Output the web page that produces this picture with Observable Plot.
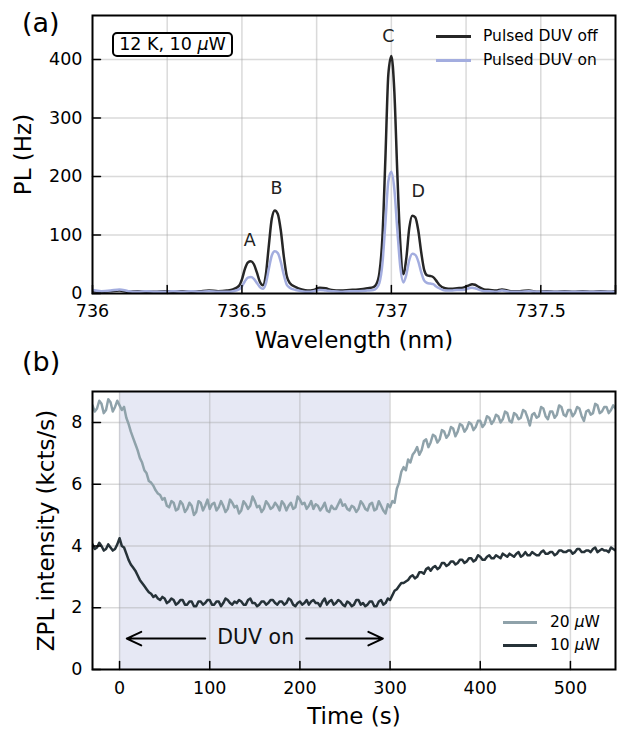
<!DOCTYPE html>
<html>
<head>
<meta charset="utf-8">
<script src="https://cdn.jsdelivr.net/npm/d3@7"></script>
<script src="https://cdn.jsdelivr.net/npm/@observablehq/plot@0.6"></script>
<style>
  html, body { margin: 0; padding: 0; background: #fff; }
  #root { position: relative; width: 618px; height: 729px; font-family: "DejaVu Sans", sans-serif; color: #000; overflow: hidden; }
  #root svg { position: absolute; left: 0; }
  .abs { position: absolute; white-space: nowrap; }
  .leg-line { position: absolute; height: 3px; }
  .leg-text { position: absolute; font-size: 15.5px; line-height: 20px; white-space: nowrap; }
</style>
</head>
<body>
<div id="root"></div>
<script>
// ---------- Panel (a) data ----------
const wavelength = [736.00, 736.03, 736.06, 736.09, 736.12, 736.15, 736.18, 736.21, 736.24, 736.27, 736.30, 736.33, 736.36, 736.39, 736.42, 736.45, 736.47, 736.49, 736.50, 736.51, 736.52, 736.53, 736.54, 736.55, 736.56, 736.57, 736.58, 736.59, 736.60, 736.61, 736.62, 736.63, 736.64, 736.65, 736.66, 736.68, 736.70, 736.72, 736.74, 736.76, 736.78, 736.80, 736.83, 736.86, 736.89, 736.92, 736.94, 736.95, 736.96, 736.97, 736.98, 736.99, 737.00, 737.01, 737.02, 737.03, 737.04, 737.05, 737.06, 737.07, 737.08, 737.09, 737.10, 737.11, 737.12, 737.13, 737.14, 737.15, 737.16, 737.18, 737.20, 737.22, 737.24, 737.26, 737.27, 737.28, 737.29, 737.31, 737.33, 737.35, 737.37, 737.40, 737.43, 737.46, 737.49, 737.52, 737.55, 737.58, 737.61, 737.64, 737.67, 737.70, 737.73, 737.75];
const plDuvOff = [4, 3, 4, 5, 3, 4, 3, 3, 4, 3, 4, 3, 4, 5, 4, 5, 7, 13, 24, 42, 53, 55, 50, 36, 20, 14, 32, 82, 128, 142, 136, 108, 64, 30, 18, 11, 7, 5, 6, 10, 9, 6, 5, 6, 7, 9, 11, 16, 35, 95, 230, 375, 406, 345, 205, 85, 33, 60, 112, 133, 130, 108, 70, 40, 31, 30, 28, 22, 15, 9, 8, 9, 10, 14, 16, 15, 12, 7, 6, 5, 7, 4, 4, 5, 3, 4, 3, 4, 3, 4, 3, 4, 3, 4];
const plDuvOn = [6, 4, 5, 7, 4, 3, 4, 3, 3, 4, 3, 4, 3, 4, 3, 3, 4, 7, 12, 21, 27, 28, 25, 18, 11, 8, 17, 42, 65, 72, 69, 54, 32, 15, 10, 6, 4, 3, 4, 6, 5, 4, 3, 4, 4, 5, 6, 9, 18, 50, 120, 192, 208, 178, 108, 45, 19, 32, 57, 68, 66, 55, 36, 22, 18, 17, 16, 12, 9, 5, 5, 6, 6, 9, 10, 9, 7, 4, 4, 3, 5, 3, 3, 4, 3, 3, 3, 3, 3, 3, 3, 3, 3, 3];
const peakNames = ["A", "B", "C", "D"];
const peakLabelX = [736.526, 736.616, 736.99, 737.09];
const peakLabelY = [90, 179, 439, 174];
const topXTicks = [736, 736.25, 736.5, 736.75, 737, 737.25, 737.5, 737.75];
const topXTickLabels = [736, 736.5, 737, 737.5];
const topYTicks = [0, 100, 200, 300, 400];
const topSeriesNames = ["Pulsed DUV off", "Pulsed DUV on"];

// ---------- Panel (b) data ----------
const timeS = [
  -30, -27.5, -25, -22.5, -20, -17.5, -15, -12.5,
  -10, -7.5, -5, -2.5, 0, 2.5, 5, 7.5,
  10, 12.5, 15, 17.5, 20, 22.5, 25, 27.5,
  30, 32.5, 35, 37.5, 40, 42.5, 45, 47.5,
  50, 52.5, 55, 57.5, 60, 62.5, 65, 67.5,
  70, 72.5, 75, 77.5, 80, 82.5, 85, 87.5,
  90, 92.5, 95, 97.5, 100, 102.5, 105, 107.5,
  110, 112.5, 115, 117.5, 120, 122.5, 125, 127.5,
  130, 132.5, 135, 137.5, 140, 142.5, 145, 147.5,
  150, 152.5, 155, 157.5, 160, 162.5, 165, 167.5,
  170, 172.5, 175, 177.5, 180, 182.5, 185, 187.5,
  190, 192.5, 195, 197.5, 200, 202.5, 205, 207.5,
  210, 212.5, 215, 217.5, 220, 222.5, 225, 227.5,
  230, 232.5, 235, 237.5, 240, 242.5, 245, 247.5,
  250, 252.5, 255, 257.5, 260, 262.5, 265, 267.5,
  270, 272.5, 275, 277.5, 280, 282.5, 285, 287.5,
  290, 292.5, 295, 297.5, 300, 302.5, 305, 307.5,
  310, 312.5, 315, 317.5, 320, 322.5, 325, 327.5,
  330, 332.5, 335, 337.5, 340, 342.5, 345, 347.5,
  350, 352.5, 355, 357.5, 360, 362.5, 365, 367.5,
  370, 372.5, 375, 377.5, 380, 382.5, 385, 387.5,
  390, 392.5, 395, 397.5, 400, 402.5, 405, 407.5,
  410, 412.5, 415, 417.5, 420, 422.5, 425, 427.5,
  430, 432.5, 435, 437.5, 440, 442.5, 445, 447.5,
  450, 452.5, 455, 457.5, 460, 462.5, 465, 467.5,
  470, 472.5, 475, 477.5, 480, 482.5, 485, 487.5,
  490, 492.5, 495, 497.5, 500, 502.5, 505, 507.5,
  510, 512.5, 515, 517.5, 520, 522.5, 525, 527.5,
  530, 532.5, 535, 537.5, 540, 542.5, 545, 547.5,
  550];
const zpl20uW = [
  8.55, 8.35, 8.45, 8.70, 8.60, 8.30, 8.40, 8.75,
  8.65, 8.35, 8.50, 8.70, 8.55, 8.40, 8.50, 8.15,
  7.95, 7.70, 7.50, 7.30, 7.10, 6.85, 6.70, 6.45,
  6.35, 6.10, 6.05, 5.95, 5.80, 5.70, 5.65, 5.50,
  5.55, 5.30, 5.25, 5.45, 5.40, 5.15, 5.20, 5.45,
  5.35, 5.10, 5.20, 5.40, 5.30, 5.00, 5.10, 5.45,
  5.40, 5.15, 5.30, 5.50, 5.20, 5.35, 5.40, 5.15,
  5.25, 5.45, 5.30, 5.10, 5.20, 5.50, 5.40, 5.25,
  5.30, 5.05, 5.15, 5.45, 5.35, 5.20, 5.30, 5.60,
  5.45, 5.25, 5.30, 5.10, 5.20, 5.45, 5.35, 5.20,
  5.25, 5.40, 5.30, 5.15, 5.45, 5.35, 5.15, 5.30,
  5.40, 5.20, 5.25, 5.60, 5.50, 5.35, 5.40, 5.20,
  5.30, 5.45, 5.20, 5.35, 5.30, 5.15, 5.25, 5.40,
  5.15, 5.10, 5.30, 5.20, 5.20, 5.35, 5.50, 5.30,
  5.35, 5.20, 5.15, 5.30, 5.25, 5.10, 5.20, 5.45,
  5.35, 5.20, 5.15, 5.35, 5.40, 5.15, 5.20, 5.45,
  5.30, 5.15, 5.05, 5.35, 5.25, 5.45, 5.40, 5.85,
  6.05, 6.40, 6.55, 6.45, 6.80, 6.70, 6.95, 7.05,
  7.20, 6.95, 7.10, 7.40, 7.45, 7.20, 7.35, 7.60,
  7.55, 7.35, 7.45, 7.75, 7.70, 7.50, 7.60, 7.85,
  7.80, 7.55, 7.70, 7.95, 7.90, 7.70, 7.80, 8.00,
  7.95, 7.75, 7.85, 8.05, 8.05, 7.85, 7.95, 8.20,
  8.15, 7.95, 8.05, 8.25, 8.20, 8.00, 8.10, 8.35,
  8.30, 8.05, 8.00, 8.30, 8.25, 8.10, 8.15, 8.40,
  8.35, 8.15, 7.90, 8.25, 8.30, 8.15, 8.20, 8.50,
  8.45, 8.20, 8.10, 8.35, 8.35, 8.15, 8.25, 8.55,
  8.50, 8.25, 8.20, 8.40, 8.40, 8.20, 8.30, 8.50,
  8.45, 8.20, 8.05, 8.35, 8.40, 8.25, 8.30, 8.60,
  8.55, 8.30, 8.35, 8.50, 8.50, 8.30, 8.40, 8.55,
  8.45];
const zpl10uW = [
  4.05, 3.90, 3.95, 4.10, 4.00, 3.85, 3.90, 4.05,
  3.95, 3.85, 3.90, 4.05, 4.25, 4.00, 3.95, 3.75,
  3.55, 3.40, 3.30, 3.20, 3.05, 2.90, 2.80, 2.70,
  2.60, 2.50, 2.45, 2.35, 2.40, 2.30, 2.25, 2.35,
  2.30, 2.15, 2.20, 2.30, 2.25, 2.10, 2.15, 2.25,
  2.25, 2.10, 2.10, 2.20, 2.20, 2.05, 2.05, 2.20,
  2.20, 2.10, 2.15, 2.25, 2.25, 2.10, 2.10, 2.20,
  2.20, 2.05, 2.15, 2.30, 2.25, 2.15, 2.10, 2.20,
  2.15, 2.25, 2.20, 2.10, 2.10, 2.25, 2.30, 2.15,
  2.15, 2.05, 2.10, 2.20, 2.20, 2.10, 2.15, 2.25,
  2.25, 2.15, 2.10, 2.20, 2.20, 2.10, 2.15, 2.30,
  2.25, 2.10, 2.05, 2.15, 2.20, 2.10, 2.15, 2.25,
  2.10, 2.20, 2.25, 2.15, 2.15, 2.05, 2.20, 2.30,
  2.10, 2.20, 2.25, 2.10, 2.15, 2.25, 2.20, 2.10,
  2.05, 2.20, 2.15, 2.05, 2.10, 2.25, 2.25, 2.10,
  2.15, 2.05, 2.10, 2.20, 2.20, 2.05, 2.05, 2.20,
  2.25, 2.10, 2.15, 2.30, 2.25, 2.40, 2.55, 2.60,
  2.70, 2.80, 2.80, 2.85, 2.90, 3.00, 3.05, 2.95,
  3.00, 3.15, 3.15, 3.10, 3.25, 3.30, 3.20, 3.30,
  3.35, 3.25, 3.30, 3.45, 3.45, 3.35, 3.40, 3.50,
  3.50, 3.40, 3.45, 3.55, 3.55, 3.45, 3.50, 3.60,
  3.60, 3.50, 3.55, 3.70, 3.65, 3.55, 3.55, 3.65,
  3.70, 3.60, 3.60, 3.70, 3.65, 3.60, 3.75, 3.70,
  3.65, 3.75, 3.70, 3.65, 3.75, 3.80, 3.65, 3.70,
  3.80, 3.70, 3.70, 3.80, 3.75, 3.70, 3.70, 3.80,
  3.85, 3.75, 3.75, 3.80, 3.80, 3.70, 3.75, 3.85,
  3.85, 3.80, 3.80, 3.85, 3.85, 3.75, 3.80, 3.90,
  3.90, 3.80, 3.80, 3.85, 3.85, 3.80, 3.90, 3.95,
  3.80, 3.85, 3.90, 3.85, 3.85, 3.80, 3.95, 3.90,
  3.85];
const duvWindow = [0, 300];
const duvArrowStart = [95, 207];
const duvArrowEnd = [8, 292];
const duvArrowLevel = 1.0;
const duvLabel = "DUV on";
const duvLabelTime = 151;
const duvLabelLevel = 1.03;
const botXTicks = [0, 100, 200, 300, 400, 500];
const botYTicks = [0, 2, 4, 6, 8];
const botSeriesNames = ["20 \u03bcW", "10 \u03bcW"];

// ---------- styles ----------
const C_OFF = "#262626", C_ON = "#a3addf";
const C_20 = "#8fa2aa", C_10 = "#263238";
const FONT = "DejaVu Sans, sans-serif";
const gridStyle = {stroke: "#a8a8a8", strokeOpacity: 0.42, strokeWidth: 1.5};
const tickUp = {draw(ctx, l) { ctx.moveTo(0, 0); ctx.lineTo(0, -l); }};
const tickRight = {draw(ctx, l) { ctx.moveTo(0, 0); ctx.lineTo(l, 0); }};

const topData = wavelength.map((w, i) => ({w, off: plDuvOff[i], on: plDuvOn[i]}));
const peaks = peakNames.map((n, i) => ({n, x: peakLabelX[i], y: peakLabelY[i]}));

const plotA = Plot.plot({
  width: 618, height: 360,
  marginLeft: 92, marginRight: 3, marginTop: 15, marginBottom: 67,
  style: {fontFamily: FONT, fontSize: "17.5px", background: "transparent", overflow: "visible", color: "#000"},
  x: {domain: [736, 737.75]},
  y: {domain: [0, 475]},
  marks: [
    Plot.gridX(topXTicks.slice(1, -1), gridStyle),
    Plot.gridY(topYTicks.slice(1), gridStyle),
    Plot.line(topData, {x: "w", y: "off", stroke: C_OFF, strokeWidth: 2.5, curve: "monotone-x", clip: true}),
    Plot.line(topData, {x: "w", y: "on", stroke: C_ON, strokeWidth: 2.5, curve: "monotone-x", clip: true}),
    Plot.text(peaks, {x: "x", y: "y", text: "n", fontSize: 17.5, fill: "#222"}),
    Plot.vector(topXTicks, {x: d => d, frameAnchor: "bottom", anchor: "start", length: 8, shape: tickUp, stroke: "#000", strokeWidth: 1.5}),
    Plot.vector(topYTicks, {y: d => d, frameAnchor: "left", anchor: "start", length: 8, shape: tickRight, stroke: "#000", strokeWidth: 1.5}),
    Plot.frame({stroke: "#000", strokeWidth: 2}),
    Plot.axisX(topXTickLabels, {tickSize: 0, tickPadding: 11, label: null, tickFormat: d => `${d}`, fontSize: 17.5}),
    Plot.axisY(topYTicks, {tickSize: 0, tickPadding: 10, label: null, tickFormat: d => `${d}`, fontSize: 17.5}),
    Plot.text(["Wavelength (nm)"], {text: d => d, frameAnchor: "bottom", textAnchor: "middle", lineAnchor: "middle", dy: 47.6, fontSize: 23}),
    Plot.text(["PL (Hz)"], {text: d => d, frameAnchor: "left", textAnchor: "middle", lineAnchor: "middle", dx: -68.4, rotate: -90, fontSize: 23})
  ]
});

const botA = timeS.map((t, i) => ({t, v: zpl20uW[i]}));
const botB = timeS.map((t, i) => ({t, v: zpl10uW[i]}));
const arrows = duvArrowStart.map((s, i) => ({x1: s, x2: duvArrowEnd[i], y: duvArrowLevel}));

const plotB = Plot.plot({
  width: 618, height: 369,
  marginLeft: 92, marginRight: 3, marginTop: 31, marginBottom: 60,
  style: {fontFamily: FONT, fontSize: "17.5px", background: "transparent", overflow: "visible", color: "#000"},
  x: {domain: [-30, 550]},
  y: {domain: [0, 9]},
  marks: [
    Plot.rect([duvWindow], {x1: d => d[0], x2: d => d[1], fill: "#e6e8f4"}),
    Plot.gridX(botXTicks, gridStyle),
    Plot.gridY(botYTicks.slice(1), gridStyle),
    Plot.line(botA, {x: "t", y: "v", stroke: C_20, strokeWidth: 2.5, clip: true}),
    Plot.line(botB, {x: "t", y: "v", stroke: C_10, strokeWidth: 2.5, clip: true}),
    Plot.arrow(arrows, {x1: "x1", y1: "y", x2: "x2", y2: "y", stroke: "#000", strokeWidth: 2, headLength: 12, headAngle: 50}),
    Plot.text([duvLabel], {text: d => d, x: duvLabelTime, y: duvLabelLevel, fontSize: 20.5, fill: "#111"}),
    Plot.vector(botXTicks, {x: d => d, frameAnchor: "bottom", anchor: "start", length: 8, shape: tickUp, stroke: "#000", strokeWidth: 1.5}),
    Plot.vector(botYTicks, {y: d => d, frameAnchor: "left", anchor: "start", length: 8, shape: tickRight, stroke: "#000", strokeWidth: 1.5}),
    Plot.frame({stroke: "#000", strokeWidth: 2}),
    Plot.axisX(botXTicks, {tickSize: 0, tickPadding: 12, label: null, tickFormat: d => `${d}`, fontSize: 17.5}),
    Plot.axisY(botYTicks, {tickSize: 0, tickPadding: 10, label: null, tickFormat: d => `${d}`, fontSize: 17.5}),
    Plot.text(["Time (s)"], {text: d => d, frameAnchor: "bottom", textAnchor: "middle", lineAnchor: "middle", dy: 47.6, fontSize: 23}),
    Plot.text(["ZPL intensity (kcts/s)"], {text: d => d, frameAnchor: "left", textAnchor: "middle", lineAnchor: "middle", dx: -45.4, rotate: -90, fontSize: 23})
  ]
});

const root = document.getElementById("root");
plotA.style.top = "0px";
plotB.style.top = "360px";
root.appendChild(plotA);
root.appendChild(plotB);

function addDiv(cls, css, html) {
  const d = document.createElement("div");
  d.className = cls;
  d.style.cssText = css;
  if (html != null) d.innerHTML = html;
  root.appendChild(d);
  return d;
}
const mu = s => s.replace("\u03bc", "<i>\u03bc</i>");

// panel letters
addDiv("abs", "left:22px; top:9px; font-size:27px; line-height:27px;", "(a)");
addDiv("abs", "left:22px; top:348px; font-size:27px; line-height:27px;", "(b)");
// condition box
addDiv("abs", "left:112px; top:32px; width:121px; height:25px; box-sizing:border-box; border:2px solid #000; border-radius:5px; font-size:17.5px; line-height:21px; text-align:center; background:#fff;", mu("12 K, 10 \u03bcW"));
// legend (a)
[[C_OFF, 36], [C_ON, 60]].forEach(([c, y], i) => {
  addDiv("leg-line", `left:436px; top:${y - 1.5}px; width:35px; background:${c};`);
  addDiv("leg-text", `left:483px; top:${y - 10}px;`, topSeriesNames[i]);
});
// legend (b)
[[C_20, 622], [C_10, 645]].forEach(([c, y], i) => {
  addDiv("leg-line", `left:503px; top:${y - 1.5}px; width:34px; background:${c};`);
  addDiv("leg-text", `left:550px; top:${y - 10}px;`, mu(botSeriesNames[i]));
});
</script>
</body>
</html>
